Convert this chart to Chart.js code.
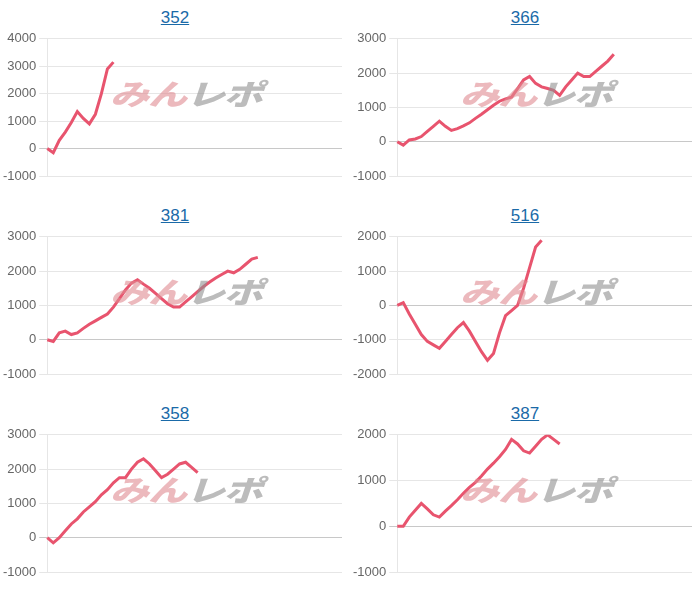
<!DOCTYPE html>
<html><head><meta charset="utf-8">
<script src="https://cdn.jsdelivr.net/npm/chart.js@4"></script>
<style>
body{margin:0;background:#fff;font-family:"Liberation Sans",Arial,sans-serif;}
#grid{position:relative;width:700px;height:591px;}
.panel{position:absolute;width:350px;height:198px;}
.title{position:absolute;top:8px;left:0;width:100%;text-align:center;font-size:17px;}
.title a{color:#1a6aa8;text-decoration:underline;}
.cv{position:absolute;top:28px;left:0;width:350px;height:166px;}
.wm{position:absolute;top:72px;left:110px;font:italic 900 34px "Noto Sans CJK JP";letter-spacing:-1px;opacity:0.6;pointer-events:none;transform:scaleX(1.15) scaleY(0.85);transform-origin:left top;}
.wm .a{color:#e08a92}.wm .b{color:#8f8f8f}
</style></head><body>
<div id="grid"></div>
<script>
const titles=["352","366","381","516","358","387"];
const s352=[0,-150,300,600,950,1350,1100,900,1250,2000,2900,3150];
const s366=[0,-100,50,80,150,300,450,600,450,330,380,460,550,680,800,930,1060,1180,1250,1300,1550,1800,1900,1700,1600,1550,1500,1350,1600,1800,2000,1900,1900,2050,2200,2350,2550];
const s381=[0,-50,200,250,150,200,330,450,550,650,750,950,1200,1450,1650,1750,1620,1500,1350,1200,1050,950,950,1100,1250,1400,1550,1680,1800,1900,2000,1950,2050,2200,2350,2400];
const s516=[0,80,-250,-550,-850,-1050,-1150,-1250,-1050,-850,-650,-500,-750,-1050,-1350,-1600,-1400,-800,-300,-150,0,500,1100,1700,1900];
const s358=[0,-150,0,200,400,550,750,900,1050,1250,1400,1600,1750,1750,2000,2200,2300,2150,1950,1750,1850,2000,2150,2200,2050,1900];
const s387=[0,0,200,350,500,380,250,200,330,450,580,720,850,960,1100,1250,1380,1520,1680,1900,1800,1650,1600,1750,1900,2000,1900,1800];
const series=[s352,s366,s381,s516,s358,s387];
const yMin=[-1000,-1000,-1000,-2000,-1000,-1000];
const yMax=[4000,3000,3000,2000,3000,2000];
const labels=Array.from({length:50},(_,i)=>i);
const grid=document.getElementById('grid');
series.forEach((d,i)=>{
  const p=document.createElement('div');p.className='panel';
  p.style.left=(i%2*350)+'px';p.style.top=(Math.floor(i/2)*198)+'px';
  p.innerHTML='<div class="title"><a href="#">'+titles[i]+'</a></div><div class="cv"><canvas></canvas></div><div class="wm"><span class="a">みん</span><span class="b">レポ</span></div>';
  grid.appendChild(p);
  new Chart(p.querySelector('canvas'),{type:'line',
    data:{labels,datasets:[{data:d,borderColor:'#e8546e',borderWidth:3,pointRadius:0,tension:0,fill:false}]},
    options:{responsive:true,maintainAspectRatio:false,animation:false,
      layout:{padding:{left:0,right:8,top:4,bottom:10}},
      plugins:{legend:{display:false},tooltip:{enabled:false}},
      scales:{x:{display:true,ticks:{display:false},grid:{display:false},border:{display:false}},
        y:{min:yMin[i],max:yMax[i],ticks:{stepSize:1000,color:'#666',font:{size:13},callback:v=>String(v)},
          border:{color:'#e6e6e6'},
          grid:{color:c=>c.tick&&c.tick.value===0?'#c8c8c8':'#e6e6e6'}}}}});
});
</script></body></html>
